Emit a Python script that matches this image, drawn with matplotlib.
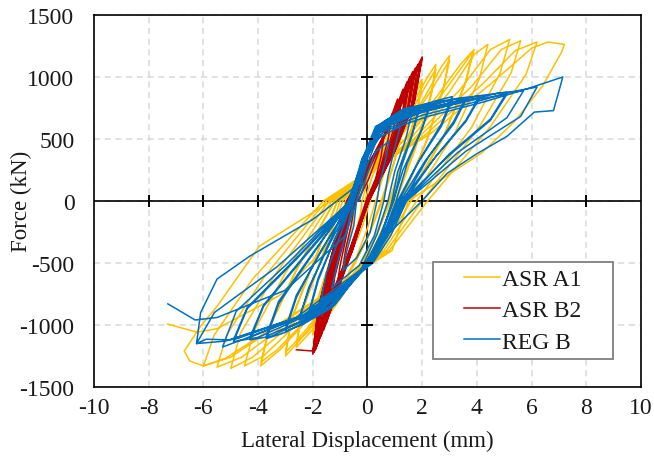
import matplotlib
matplotlib.use("Agg")
import matplotlib.pyplot as plt
from matplotlib.patches import Rectangle

plt.rcParams['font.family'] = ['Liberation Serif', 'DejaVu Serif']
plt.rcParams['axes.unicode_minus'] = False

# ---------------- data (loop vertices, x in mm, F in kN) ----------------
series_names = ["ASR A1", "ASR B2", "REG B"]
series_colors = ["#FFC000", "#C00000", "#0070C0"]

asr_a1_cycles = [
    [(-0.1, 0), (0.15, 180), (0.35, 290), (0.5, 340), (0.42, 230), (0.25, 100), (0.1, 0), (-0.15, -180), (-0.35, -300), (-0.5, -360), (-0.42, -240), (-0.25, -100)],
    [(-0.2, 0), (0.1, 230), (0.45, 430), (0.8, 600), (1.0, 650), (0.88, 470), (0.6, 220), (0.3, 0), (0.0, -220), (-0.4, -450), (-0.8, -630), (-1.0, -680), (-0.88, -480), (-0.6, -230)],
    [(-0.4, 0), (0.05, 230), (0.6, 500), (1.1, 760), (1.5, 880), (1.35, 640), (0.95, 300), (0.5, 0), (0.0, -300), (-0.6, -560), (-1.15, -820), (-1.5, -920), (-1.35, -660), (-0.9, -300)],
    [(-0.5, 0), (0.1, 250), (0.75, 550), (1.2, 760), (1.5, 840), (1.35, 600), (0.9, 250), (0.55, 0), (0.05, -280), (-0.7, -600), (-1.2, -800), (-1.5, -880), (-1.3, -600), (-0.9, -270)],
    [(-0.6, 0), (0.0, 210), (0.7, 480), (1.4, 780), (1.75, 900), (2.0, 980), (1.85, 780), (1.4, 420), (0.8, 0), (0.1, -380), (-0.9, -760), (-1.6, -980), (-2.0, -1080), (-1.85, -830), (-1.3, -430)],
    [(-0.7, 0), (0.0, 200), (0.9, 520), (1.5, 790), (2.0, 950), (1.85, 740), (1.35, 380), (0.85, 0), (0.15, -370), (-1.0, -760), (-1.7, -960), (-2.0, -1040), (-1.8, -780), (-1.25, -400)],
    [(-0.8, 0), (0.0, 200), (0.9, 480), (1.7, 800), (2.2, 1000), (2.5, 1100), (2.35, 880), (1.8, 470), (1.0, 0), (0.2, -400), (-1.1, -780), (-2.1, -1060), (-2.6, -1180), (-2.4, -900), (-1.7, -480)],
    [(-0.9, 0), (0.0, 210), (1.1, 520), (1.9, 840), (2.5, 1060), (2.3, 820), (1.75, 420), (1.05, 0), (0.2, -390), (-1.3, -800), (-2.2, -1060), (-2.6, -1140), (-2.35, -850), (-1.65, -440)],
    [(-1.0, 0), (0.0, 200), (1.1, 490), (2.1, 840), (2.7, 1080), (3.0, 1170), (2.8, 930), (2.2, 500), (1.2, 0), (0.3, -400), (-1.3, -800), (-2.5, -1130), (-3.0, -1250), (-2.8, -970), (-2.0, -520)],
    [(-1.1, 0), (0.0, 220), (1.3, 540), (2.3, 880), (3.0, 1130), (2.75, 880), (2.1, 450), (1.25, 0), (0.35, -410), (-1.5, -840), (-2.6, -1130), (-3.0, -1220), (-2.75, -930), (-1.95, -480)],
    [(-1.1, 0), (0.0, 200), (1.3, 480), (2.6, 860), (3.4, 1100), (3.9, 1220), (3.6, 960), (2.8, 530), (1.4, 0), (0.4, -400), (-1.6, -820), (-3.2, -1200), (-3.9, -1330), (-3.6, -1030), (-2.6, -560)],
    [(-1.2, 0), (0.0, 210), (1.5, 520), (2.8, 880), (3.85, 1200), (3.55, 930), (2.75, 500), (1.45, 0), (0.45, -410), (-1.8, -860), (-3.3, -1200), (-3.9, -1300), (-3.55, -990), (-2.55, -530)],
    [(-1.2, 0), (0.0, 200), (1.5, 480), (3.0, 880), (3.9, 1180), (4.4, 1260), (4.1, 990), (3.2, 550), (1.6, 0), (0.5, -400), (-1.9, -850), (-3.8, -1250), (-4.5, -1330), (-4.15, -1050), (-3.0, -580)],
    [(-1.3, 0), (0.0, 210), (1.7, 500), (3.4, 900), (4.5, 1220), (5.2, 1300), (4.85, 1030), (3.8, 590), (1.8, 0), (0.6, -400), (-2.1, -870), (-4.2, -1260), (-5.0, -1350), (-4.65, -1070), (-3.4, -600)],
    [(-1.4, 0), (0.0, 220), (1.9, 520), (3.8, 920), (4.9, 1220), (5.6, 1290), (5.25, 1030), (4.1, 600), (2.0, 0), (0.7, -400), (-2.3, -880), (-4.6, -1260), (-5.5, -1340), (-5.15, -1080), (-3.8, -620)],
    [(-1.5, 0), (0.0, 220), (2.1, 530), (4.2, 940), (5.4, 1210), (6.2, 1280), (5.8, 1020), (4.5, 600), (2.2, 0), (0.8, -400), (-2.5, -890), (-5.0, -1260), (-6.0, -1330), (-5.6, -1080), (-4.2, -630)],
    [(-1.6, 0), (0.0, 230), (2.3, 540), (4.6, 960), (6.0, 1230), (6.6, 1280), (7.2, 1260), (7.1, 1200), (6.4, 925), (5.4, 645), (4.2, 390), (1.5, 0),
     (0.9, -400), (-2.6, -900), (-5.2, -1270), (-6.0, -1330), (-6.5, -1290), (-6.7, -1210), (-6.1, -1010), (-5.5, -850), (-3.95, -365), (-1.4, -10), (0.0, 176)],
    [(-0.8, -200), (-3.2, -760), (-5.5, -1030), (-6.24, -1058), (-7.3, -993)],
]

asr_b2_cycles = [
    [(-0.35, 0), (0.05, 180), (0.35, 360), (0.6, 520), (0.5, 360), (0.3, 180), (-0.05, 0), (-0.35, -200), (-0.65, -390), (-0.9, -560), (-0.8, -390), (-0.6, -200)],
    [(-0.45, 0), (0.05, 250), (0.55, 490), (0.9, 700), (0.75, 490), (0.45, 250), (0.0, 0), (-0.4, -260), (-0.8, -520), (-1.15, -740), (-1.0, -520), (-0.75, -260)],
    [(-0.5, 0), (0.1, 290), (0.7, 575), (1.1, 820), (0.95, 575), (0.55, 290), (0.0, 0), (-0.45, -310), (-0.95, -615), (-1.35, -880), (-1.2, -615), (-0.85, -310)],
    [(-0.55, 0), (0.15, 315), (0.85, 630), (1.3, 900), (1.1, 630), (0.65, 315), (0.0, 0), (-0.5, -340), (-1.05, -690), (-1.5, -980), (-1.35, -690), (-0.95, -340)],
    [(-0.55, 0), (0.15, 320), (0.9, 640), (1.3, 880), (1.1, 620), (0.6, 300), (0.0, 0), (-0.5, -350), (-1.1, -700), (-1.5, -960), (-1.3, -680), (-0.9, -330)],
    [(-0.6, 0), (0.2, 335), (0.95, 670), (1.45, 960), (1.25, 670), (0.7, 335), (0.0, 0), (-0.5, -365), (-1.1, -730), (-1.6, -1040), (-1.45, -730), (-1.0, -365)],
    [(-0.6, 0), (0.2, 350), (1.0, 700), (1.55, 1000), (1.35, 700), (0.75, 350), (0.0, 0), (-0.55, -380), (-1.2, -760), (-1.7, -1090), (-1.5, -760), (-1.05, -380)],
    [(-0.6, 0), (0.25, 360), (1.05, 710), (1.55, 980), (1.3, 690), (0.7, 340), (0.0, 0), (-0.55, -390), (-1.25, -780), (-1.7, -1070), (-1.45, -750), (-1.0, -370)],
    [(-0.65, 0), (0.25, 365), (1.05, 730), (1.65, 1040), (1.45, 730), (0.8, 365), (0.0, 0), (-0.55, -400), (-1.25, -800), (-1.8, -1140), (-1.6, -800), (-1.1, -400)],
    [(-0.65, 0), (0.25, 375), (1.1, 750), (1.75, 1070), (1.5, 750), (0.85, 375), (0.0, 0), (-0.6, -410), (-1.3, -820), (-1.85, -1170), (-1.65, -820), (-1.15, -410)],
    [(-0.65, 0), (0.3, 380), (1.15, 760), (1.75, 1050), (1.5, 740), (0.85, 370), (0.0, 0), (-0.6, -420), (-1.35, -830), (-1.85, -1150), (-1.6, -810), (-1.1, -400)],
    [(-0.7, 0), (0.3, 385), (1.15, 770), (1.85, 1100), (1.6, 770), (0.9, 385), (0.05, 0), (-0.6, -420), (-1.35, -840), (-1.9, -1200), (-1.7, -840), (-1.2, -420)],
    [(-0.7, 0), (0.3, 395), (1.2, 790), (1.95, 1130), (1.65, 790), (0.95, 395), (0.05, 0), (-0.65, -430), (-1.4, -855), (-1.95, -1220), (-1.75, -855), (-1.25, -430)],
    [(-0.7, 0), (0.35, 405), (1.25, 810), (2.0, 1160), (1.7, 810), (1.0, 405), (0.05, 0), (-0.65, -430), (-1.45, -865), (-2.0, -1235), (-1.8, -865), (-1.3, -430)],
    [(-0.75, 0), (0.3, 400), (1.25, 800), (1.95, 1120), (1.7, 790), (1.0, 400), (0.05, 0), (-0.7, -430), (-1.5, -860), (-2.0, -1220), (-1.8, -860), (-1.3, -430)],
    [(-0.75, 0), (0.3, 400), (1.3, 800), (2.0, 1150), (1.72, 800), (1.0, 400), (0.0, 0), (-0.7, -430), (-1.5, -860), (-2.0, -1210), (-2.6, -1200)],
]

reg_b_cycles = [
    [(-0.3, 0), (0.0, 220), (0.3, 400), (0.8, 480), (0.65, 320), (0.45, 150), (0.35, 0), (0.1, -250), (-0.4, -460), (-0.9, -560), (-0.75, -400), (-0.5, -200)],
    [(-0.4, 0), (-0.05, 270), (0.35, 500), (1.2, 600), (1.0, 430), (0.75, 200), (0.6, 0), (0.25, -280), (-0.3, -520), (-1.3, -700), (-1.1, -500), (-0.75, -230)],
    [(-0.5, 0), (-0.15, 280), (0.3, 520), (1.0, 650), (1.6, 690), (1.4, 500), (1.0, 240), (0.75, 0), (0.35, -270), (-0.25, -560), (-0.9, -700), (-1.7, -800), (-1.5, -580), (-1.0, -280)],
    [(-0.55, 0), (-0.05, 360), (0.5, 620), (1.2, 720), (1.9, 766), (1.65, 540), (1.25, 280), (0.95, 0), (0.5, -260), (0.0, -480), (-1.0, -780), (-2.1, -880), (-1.8, -640), (-1.2, -310)],
    [(-0.5, 0), (0.05, 380), (0.55, 590), (1.3, 700), (1.9, 740), (1.6, 520), (1.1, 230), (0.9, 0), (0.45, -320), (-0.2, -560), (-1.1, -790), (-2.1, -860), (-1.8, -620), (-1.15, -290)],
    [(-0.65, 0), (-0.15, 320), (0.35, 600), (1.3, 740), (2.3, 790), (2.0, 580), (1.45, 300), (1.05, 0), (0.6, -260), (0.05, -470), (-1.2, -840), (-2.5, -960), (-2.15, -700), (-1.35, -330)],
    [(-0.55, 0), (0.0, 370), (0.6, 640), (1.4, 740), (2.3, 770), (1.95, 560), (1.3, 250), (0.95, 0), (0.45, -310), (-0.2, -550), (-1.3, -850), (-2.5, -940), (-2.1, -690), (-1.45, -360)],
    [(-0.7, 0), (-0.2, 310), (0.3, 590), (1.4, 720), (2.4, 800), (3.1, 840), (2.7, 620), (1.9, 330), (1.15, 0), (0.65, -270), (0.1, -480), (-1.3, -860), (-2.4, -1000), (-3.0, -1050), (-2.6, -780), (-1.7, -400)],
    [(-0.55, 0), (0.05, 390), (0.65, 640), (1.7, 740), (3.1, 815), (2.7, 600), (1.8, 290), (1.1, 0), (0.5, -320), (-0.25, -570), (-1.6, -900), (-3.0, -1030), (-2.6, -760), (-1.6, -370)],
    [(-0.6, 0), (-0.1, 340), (0.35, 590), (1.5, 720), (3.0, 810), (3.6, 830), (3.15, 640), (2.25, 360), (1.3, 0), (0.7, -280), (0.1, -500), (-1.5, -880), (-3.0, -1060), (-3.7, -1110), (-3.25, -830), (-2.0, -430)],
    [(-0.65, 0), (-0.05, 400), (0.55, 630), (1.9, 740), (3.6, 815), (3.15, 620), (2.1, 320), (1.2, 0), (0.5, -300), (-0.15, -540), (-1.9, -920), (-3.7, -1090), (-3.25, -810), (-2.0, -420)],
    [(-0.6, 0), (-0.2, 330), (0.3, 600), (1.2, 700), (2.6, 800), (3.4, 830), (4.1, 845), (3.6, 650), (2.5, 360), (1.35, 0), (0.75, -270), (0.15, -490), (-1.7, -890), (-3.5, -1090), (-4.3, -1120), (-3.8, -850), (-2.3, -450)],
    [(-0.55, 0), (0.0, 380), (0.6, 620), (1.8, 720), (3.3, 800), (4.1, 830), (3.6, 640), (2.4, 330), (1.25, 0), (0.6, -310), (-0.1, -550), (-2.1, -900), (-4.3, -1100), (-3.8, -840), (-2.3, -440)],
    [(-0.65, 0), (-0.15, 340), (0.35, 580), (1.5, 690), (3.0, 790), (4.0, 845), (5.1, 875), (4.5, 660), (3.0, 380), (1.4, 0), (0.8, -260), (0.2, -480), (-1.8, -880), (-4.0, -1100), (-4.9, -1135), (-4.4, -870), (-2.6, -470)],
    [(-0.6, 0), (0.05, 380), (0.7, 600), (2.0, 720), (3.8, 810), (5.1, 860), (4.5, 650), (2.95, 360), (1.3, 0), (0.65, -300), (-0.05, -530), (-2.2, -910), (-4.9, -1120), (-4.4, -860), (-2.6, -460)],
    [(-0.6, 0), (-0.1, 360), (0.5, 580), (1.8, 700), (3.5, 800), (4.8, 870), (5.7, 885), (5.1, 670), (3.3, 390), (1.4, 0), (0.7, -290), (0.0, -510), (-2.0, -900), (-4.6, -1120), (-5.3, -1178), (-4.8, -890), (-2.9, -500)],
    [(-0.65, 0), (-0.2, 340), (0.45, 560), (2.0, 690), (4.0, 800), (5.3, 880), (6.2, 917), (5.6, 680), (3.6, 400), (1.43, 0), (0.85, -280), (0.2, -500), (-2.4, -930), (-5.0, -1120), (-5.9, -1115), (-6.25, -1150), (-5.6, -900), (-3.3, -530)],
    [(-0.6, 0), (-0.05, 380), (0.6, 560), (2.2, 680), (4.3, 800), (5.8, 900), (7.14, 998), (7.0, 885), (6.8, 727), (6.1, 715), (5.1, 520), (4.0, 380), (2.9, 220), (2.0, 0),
     (0.6, -300), (-0.1, -530), (-2.6, -940), (-5.2, -1130), (-6.25, -1150), (-6.1, -900), (-5.5, -630), (-4.3, -445), (-2.0, -150), (-0.17, 160)],
    [(-0.8, -280), (-3.0, -720), (-5.5, -940), (-6.3, -960), (-7.3, -830)],
]

all_cycles = [asr_a1_cycles, asr_b2_cycles, reg_b_cycles]

x_ticks = [-10, -8, -6, -4, -2, 0, 2, 4, 6, 8, 10]
y_ticks = [-1500, -1000, -500, 0, 500, 1000, 1500]
x_label = "Lateral Displacement (mm)"
y_label = "Force (kN)"

# ---------------- figure ----------------
fig = plt.figure(figsize=(6.54, 4.60), dpi=100)
rect = [0.1437, 0.1565, 0.8364, 0.8094]
ax = fig.add_axes(rect)
ax.set_xlim(-10, 10)
ax.set_ylim(-1500, 1500)
ax.set_xticks(x_ticks)
ax.set_yticks(y_ticks)
ax.tick_params(axis='both', length=0, labelsize=17, colors='#1a1a1a')
ax.tick_params(axis='x', pad=7)
ax.tick_params(axis='y', pad=14)
ax.set_axisbelow(True)
ax.grid(True, color='#d9d9d9', linestyle=(0, (4, 3)), linewidth=1.1)
for sp in ax.spines.values():
    sp.set_linewidth(1.2)
    sp.set_color('black')

ax.axhline(0, color='black', linewidth=1.2, zorder=1.5)
ax.axvline(0, color='black', linewidth=1.2, zorder=1.5)

handles = []
for cycles, name, col in zip(all_cycles, series_names, series_colors):
    xs, ys = [], []
    for cyc in cycles:
        for (px, py) in cyc:
            xs.append(px)
            ys.append(py)
    h, = ax.plot(xs, ys, color=col, linewidth=1.1, label=name, zorder=3, solid_joinstyle='round')
    handles.append(h)

ax.set_xlabel(x_label, fontsize=16.5, color='#1a1a1a')
ax.set_ylabel(y_label, fontsize=16.5, color='#1a1a1a')
ax.xaxis.set_label_coords(0.5, -0.115)
ax.yaxis.set_label_coords(-0.113, 0.5)

# legend: frame drawn as a box, entries centred in it
ax.add_patch(Rectangle((0.62, 0.0752), 0.329, 0.2605, transform=ax.transAxes,
                       facecolor='white', edgecolor='#7f7f7f', linewidth=1.3, zorder=4.9))
leg = ax.legend(handles=handles, loc='center', bbox_to_anchor=(0.784, 0.2055),
                fontsize=17, frameon=False, handlelength=1.5, handletextpad=0.1,
                labelspacing=0.42, borderpad=0)
leg.set_zorder(5)
for t in leg.get_texts():
    t.set_color('#1a1a1a')

# overlay axes holding the tick marks of the centre axes
ax2 = fig.add_axes(rect)
ax2.patch.set_visible(False)
for s in ['top', 'right']:
    ax2.spines[s].set_visible(False)
ax2.set_xlim(-10, 10)
ax2.set_ylim(-1500, 1500)
ax2.spines['left'].set_position(('data', 0))
ax2.spines['bottom'].set_position(('data', 0))
ax2.spines['left'].set_color('none')
ax2.spines['bottom'].set_color('none')
ax2.set_xticks([-8, -6, -4, -2, 2, 4, 6, 8])
ax2.set_yticks([-1000, -500, 500, 1000])
ax2.tick_params(axis='both', direction='inout', length=9, width=1.4, color='black',
                labelleft=False, labelbottom=False)

fig.savefig("out.png", dpi=100)
